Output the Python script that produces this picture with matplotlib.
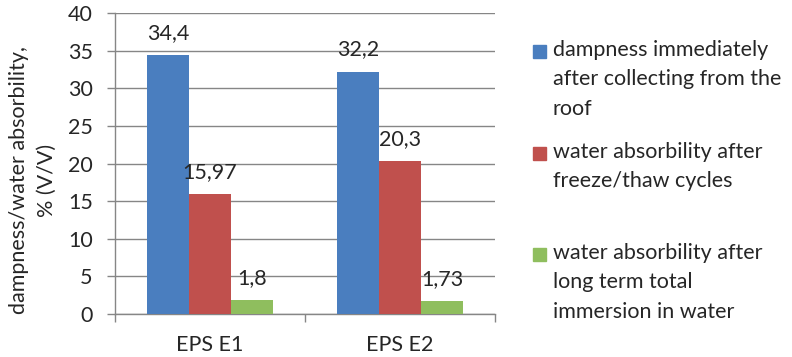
import matplotlib
matplotlib.use("Agg")
import matplotlib.pyplot as plt
from matplotlib.patches import Rectangle
import numpy as np

plt.rcParams['font.family'] = ['Lato', 'DejaVu Sans']

categories = ["EPS E1", "EPS E2"]
series_names = [
    "dampness immediately\nafter collecting from the\nroof",
    "water absorbility after\nfreeze/thaw cycles",
    "water absorbility after\nlong term total\nimmersion in water",
]
series_values = [
    [34.4, 32.2],
    [15.97, 20.3],
    [1.8, 1.73],
]
value_labels = [
    ["34,4", "32,2"],
    ["15,97", "20,3"],
    ["1,8", "1,73"],
]
colors = ["#4A7EBF", "#C0504D", "#8FBE5E"]
y_ticks = [0, 5, 10, 15, 20, 25, 30, 35, 40]

W, H = 792, 357
fig = plt.figure(figsize=(W / 100, H / 100), dpi=100)
ax_left, ax_right, ax_top, ax_bot = 115, 495, 13, 314
ax = fig.add_axes([ax_left / W, 1 - ax_bot / H, (ax_right - ax_left) / W, (ax_bot - ax_top) / H])

text_color = "#262626"
axis_color = "#868686"
fs = 15.5

bar_w = 42 / 190
x = np.arange(len(categories))
for i, (vals, labs, col) in enumerate(zip(series_values, value_labels, colors)):
    pos = x + (i - 1) * bar_w
    ax.bar(pos, vals, width=bar_w, color=col, zorder=3)
    for px, v, lab in zip(pos, vals, labs):
        ax.annotate(lab, (px, v), xytext=(0, 16), textcoords="offset points",
                    ha="center", va="center", fontsize=fs, color=text_color)

ax.set_xlim(-0.5, 1.5)
ax.set_ylim(0, 40)
ax.set_yticks(y_ticks)
ax.set_yticklabels([str(t) for t in y_ticks])
ax.yaxis.grid(True, color=axis_color, linewidth=1.0, zorder=0)
ax.set_axisbelow(True)

ax.set_xticks([-0.5, 0.5, 1.5])
ax.set_xticklabels([])
ax.set_xticks(x, minor=True)
ax.set_xticklabels(categories, minor=True)
ax.tick_params(axis="x", which="major", length=6, width=1, color=axis_color, direction="out")
ax.tick_params(axis="x", which="minor", length=0, pad=15, labelsize=fs, labelcolor=text_color)
ax.tick_params(axis="y", length=6, width=1, color=axis_color, direction="out", pad=10,
               labelsize=fs, labelcolor=text_color)

for s in ["top", "right"]:
    ax.spines[s].set_visible(False)
for s in ["left", "bottom"]:
    ax.spines[s].set_color(axis_color)
    ax.spines[s].set_linewidth(1.0)

fig.text(33 / W, 1 - 180 / H, "dampness/water absorbility,\n% (V/V)", rotation=90,
         ha="center", va="center", multialignment="center", fontsize=fs,
         color=text_color, linespacing=1.45)

# legend drawn in pixel positions on the figure
legend_tops = [53, 155, 256]
for name, col, yc in zip(series_names, colors, legend_tops):
    fig.patches.append(Rectangle(((533) / W, 1 - (yc + 5) / H), 13 / W, 13 / H,
                                 transform=fig.transFigure, color=col))
    fig.text(553 / W, 1 - (yc - 13) / H, name, ha="left", va="top", fontsize=fs,
             color=text_color, linespacing=1.58)

fig.savefig("out.png", dpi=100)
